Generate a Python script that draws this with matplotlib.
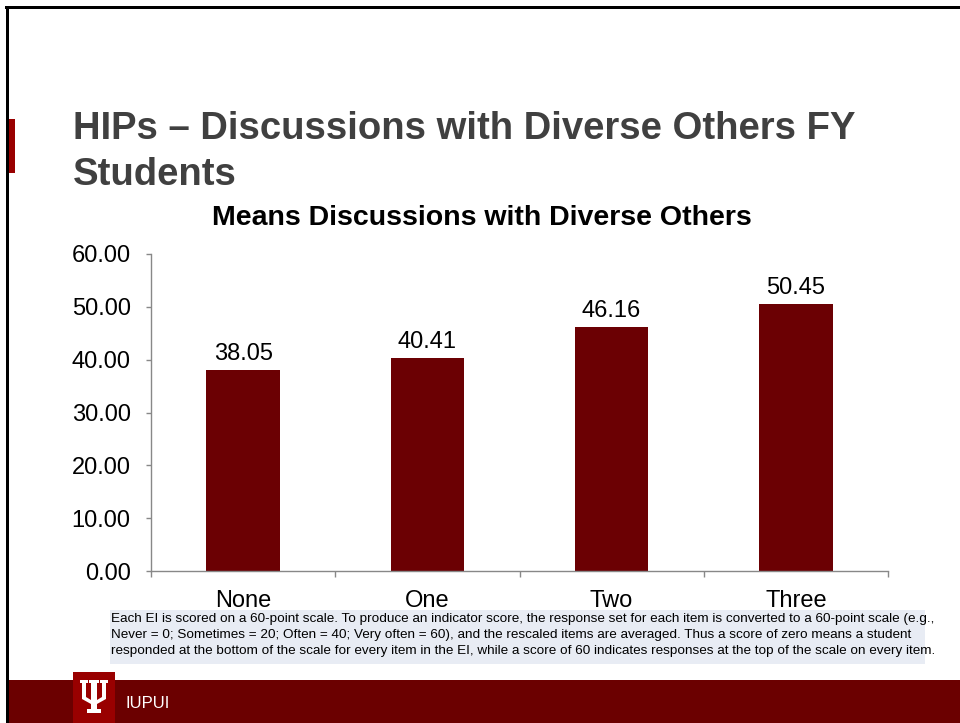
import matplotlib
matplotlib.use("Agg")
import matplotlib.pyplot as plt
from matplotlib.patches import Rectangle, Polygon

plt.rcParams['font.family'] = ['Liberation Sans', 'DejaVu Sans']

categories = ["None", "One", "Two", "Three"]
means = [38.05, 40.41, 46.16, 50.45]
y_ticks = [0, 10, 20, 30, 40, 50, 60]

slide_title = "HIPs \u2013 Discussions with Diverse Others FY\nStudents"
chart_title = "Means Discussions with Diverse Others"
note_text = ("Each EI is scored on a 60-point scale. To produce an indicator score, the response set for each item is converted to a 60-point scale (e.g.,\n"
             "Never = 0; Sometimes = 20; Often = 40; Very often = 60), and the rescaled items are averaged. Thus a score of zero means a student\n"
             "responded at the bottom of the scale for every item in the EI, while a score of 60 indicates responses at the top of the scale on every item.")

W, H = 960, 723
fig = plt.figure(figsize=(W / 100, H / 100), dpi=100)
fig.patch.set_facecolor("white")


def px(x, y):
    return x / W, 1 - y / H


def prect(x0, y0, x1, y1, **kw):
    r = Rectangle((x0 / W, 1 - y1 / H), (x1 - x0) / W, (y1 - y0) / H,
                  transform=fig.transFigure, **kw)
    fig.add_artist(r)
    return r


# slide frame
prect(5, 6, 960, 9, facecolor="black", edgecolor="none")
prect(6, 6, 9, 723, facecolor="black", edgecolor="none")
prect(9, 119, 15, 173, facecolor="#990000", edgecolor="none")

# footer band and logo
prect(9, 680, 960, 723, facecolor="#6B0000", edgecolor="none")
prect(73, 672, 115, 723, facecolor="#990000", edgecolor="none")
trident = [
    (80, 680), (88, 680), (88, 683), (86, 683), (86, 697), (91, 700),
    (91, 683), (89, 683), (89, 680), (99, 680), (99, 683), (97, 683),
    (97, 700), (102, 697), (102, 683), (100, 683), (100, 680), (108, 680),
    (108, 683), (106, 683), (106, 699), (97, 704), (97, 709), (101, 709),
    (101, 713), (87, 713), (87, 709), (91, 709), (91, 704), (82, 699),
    (82, 683), (80, 683),
]
fig.add_artist(Polygon([px(x, y) for x, y in trident], closed=True,
                       transform=fig.transFigure, facecolor="white",
                       edgecolor="none"))
fig.text(*px(125, 704), "IUPUI", color="white", fontsize=12, va="center", ha="left")

# slide title
fig.text(*px(73, 152), slide_title, fontsize=27.5, fontweight="bold",
         color="#404040", ha="left", va="center", linespacing=1.35)

# chart title
fig.text(*px(482, 218), chart_title, fontsize=20.5, fontweight="bold",
         color="black", ha="center", va="center")

# note box
prect(110, 610, 925, 664, facecolor="#E8ECF4", edgecolor="none")
fig.text(*px(111, 635), note_text, fontsize=9.7, color="black",
         ha="left", va="center", linespacing=1.45)

# bar chart
x0, x1, yb, yt = 151, 888, 571, 254
ax = fig.add_axes([x0 / W, 1 - yb / H, (x1 - x0) / W, (yb - yt) / H])
ax.set_facecolor("none")
xs = list(range(len(categories)))
bars = ax.bar(xs, means, width=0.4, color="#6B0003", edgecolor="none")
ax.set_xlim(-0.5, len(categories) - 0.5)
ax.set_ylim(0, 60)
ax.set_yticks(y_ticks)
ax.set_yticklabels([f"{v:.2f}" for v in y_ticks], fontsize=17)
ax.set_xticks(xs)
ax.set_xticklabels(categories, fontsize=17)
ax.set_xticks([i - 0.5 for i in range(len(categories) + 1)], minor=True)
ax.tick_params(axis="x", which="major", length=0, pad=13.5)
ax.tick_params(axis="x", which="minor", length=4.5, color="#888888", width=1)
ax.tick_params(axis="y", length=3.6, color="#888888", width=1, pad=11)
for s in ["top", "right"]:
    ax.spines[s].set_visible(False)
for s in ["left", "bottom"]:
    ax.spines[s].set_color("#888888")
    ax.spines[s].set_linewidth(1)

for b, v in zip(bars, means):
    ax.annotate(f"{v:.2f}", (b.get_x() + b.get_width() / 2, v),
                xytext=(0, 11.5), textcoords="offset points",
                ha="center", va="center", fontsize=17)

fig.savefig("out.png", dpi=100)
